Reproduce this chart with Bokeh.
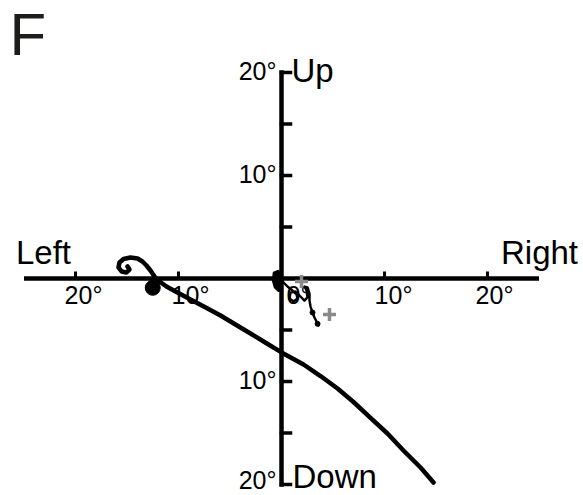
from bokeh.plotting import figure
from bokeh.models import Range1d, Label
from bokeh.core.properties import value
from bokeh.embed import file_html
from bokeh.resources import INLINE

# Eye-position traces in degrees (x: right positive, y: up positive)
main_x = [-14.95, -14.76, -15.05, -15.53, -15.83, -15.73, -15.34, -14.66, -13.98, -13.50,
          -13.11, -12.72, -12.33, -11.84, -11.17, -10.29, -8.83, -7.18, -5.92, -4.47,
          -3.01, -1.50, 0.00, 2.14, 3.79, 5.44, 6.99, 8.64, 10.29, 11.84, 13.50, 14.76]
main_y = [1.17, 0.87, 0.58, 0.68, 1.07, 1.55, 1.89, 2.04, 1.94, 1.65,
          1.26, 0.78, 0.19, -0.29, -0.78, -1.26, -2.04, -2.91, -3.59, -4.47,
          -5.34, -6.26, -7.18, -8.35, -9.47, -10.68, -11.99, -13.54, -15.05, -16.70, -18.35, -19.81]
main_start = (-12.5, -0.9)

onset_x = [-0.78, -0.29, 0.00, 0.00, -0.29, -0.68, -0.87]
onset_y = [0.58, 0.78, 0.19, -0.97, -1.26, -0.87, -0.19]

small_x = [0.00, 0.10, 0.58, 1.07, 1.46, 1.55, 1.17, 0.78, 0.87, 1.36, 1.84, 2.23,
           2.52, 2.43, 2.23, 2.52, 2.72, 2.72, 2.82, 3.01, 3.20, 3.40, 3.59]
small_y = [-0.10, -0.29, -0.78, -1.17, -1.55, -1.94, -2.23, -1.94, -1.36, -1.26, -1.75, -2.14,
           -1.84, -1.17, -0.78, -0.87, -1.46, -2.14, -2.72, -3.30, -3.79, -4.17, -4.56]
small_dots_x = [3.01, 3.50]
small_dots_y = [-3.30, -4.40]

target_x = [1.94, 4.66]
target_y = [-0.29, -3.50]

# Axis geometry
h_extent = 25
v_extent = 20
h_ticks = [-20, -10, 10, 20]
v_ticks = [-20, -15, -10, -5, 5, 10, 15, 20]
h_label_pos = [-20, -10, 0, 10, 20]
h_label_txt = ["20°", "10°", "0°", "10°", "20°"]
h_label_dx = [8, 12, 17, 9, 7]
v_label_pos = [20, 10, -10, -20]
v_label_txt = ["20°", "10°", "10°", "20°"]
v_label_dy = [-1.5, -1.5, -1.5, -5]

PX = 10.3  # pixels per degree
W, H = 583, 495
CX, CY = 281, 278

p = figure(width=W, height=H, output_backend="svg", toolbar_location=None,
           x_range=Range1d(-CX / PX, (W - CX) / PX),
           y_range=Range1d(-(H - CY) / PX, CY / PX),
           x_axis_type=None, y_axis_type=None, min_border=0)
p.grid.visible = False
p.outline_line_color = None
p.background_fill_color = "white"
p.border_fill_color = "white"

FONT = value("Liberation Sans")
INK = "#000000"

# Cross-shaped axes
p.line([-h_extent, h_extent], [0, 0], line_width=4.5, color=INK)
p.line([0, 0], [-v_extent, v_extent], line_width=4.5, color=INK, line_cap="square")
p.segment(x0=h_ticks, y0=[0] * len(h_ticks), x1=h_ticks, y1=[7 / PX] * len(h_ticks),
          line_width=3, color=INK)
p.segment(x0=[0] * len(v_ticks), y0=v_ticks, x1=[9 / PX] * len(v_ticks), y1=v_ticks,
          line_width=3.5, color=INK, line_cap="square")

# Tick labels
p.text(x=h_label_pos, y=[0] * 5, text=h_label_txt, x_offset=h_label_dx, y_offset=16,
       text_font=FONT, text_font_size="25px", text_align="center",
       text_baseline="alphabetic", text_color=INK)
p.text(x=[0] * 4, y=v_label_pos, text=v_label_txt, x_offset=-5, y_offset=v_label_dy,
       text_font=FONT, text_font_size="25px", text_align="right",
       text_baseline="alphabetic", text_color=INK)

# Direction labels
p.text(x=[-h_extent], y=[0], text=["Left"], x_offset=-8, y_offset=-26,
       text_font=FONT, text_font_size="33px", text_align="left",
       text_baseline="alphabetic", text_color=INK)
p.text(x=[h_extent], y=[0], text=["Right"], x_offset=39, y_offset=-26,
       text_font=FONT, text_font_size="33px", text_align="right",
       text_baseline="alphabetic", text_color=INK)
p.text(x=[0], y=[v_extent], text=["Up"], x_offset=10, y_offset=-2,
       text_font=FONT, text_font_size="33px", text_align="left",
       text_baseline="alphabetic", text_color=INK)
p.text(x=[0], y=[-v_extent], text=["Down"], x_offset=11, y_offset=-8,
       text_font=FONT, text_font_size="33px", text_align="left",
       text_baseline="alphabetic", text_color=INK)

# Traces
p.line(main_x, main_y, line_width=4.5, color=INK, line_join="round", line_cap="round")
p.scatter([main_start[0]], [main_start[1]], marker="circle", size=15, color=INK)
p.patch(onset_x, onset_y, color=INK, line_width=1.5)
p.line(small_x, small_y, line_width=2.4, color=INK, line_join="round", line_cap="round")
p.scatter(small_dots_x, small_dots_y, marker="circle", size=5, color=INK)

# Target positions
p.scatter(target_x, target_y, marker="cross", size=13, line_width=3.5,
          line_color="#8a8a8a")

p.add_layout(Label(x=9, y=H - 34, x_units="screen", y_units="screen", text="F",
                   text_font="Liberation Sans", text_font_size="60px",
                   text_baseline="alphabetic", text_color="#1d1d1b"))

open("out.html", "w").write(file_html(p, INLINE))
